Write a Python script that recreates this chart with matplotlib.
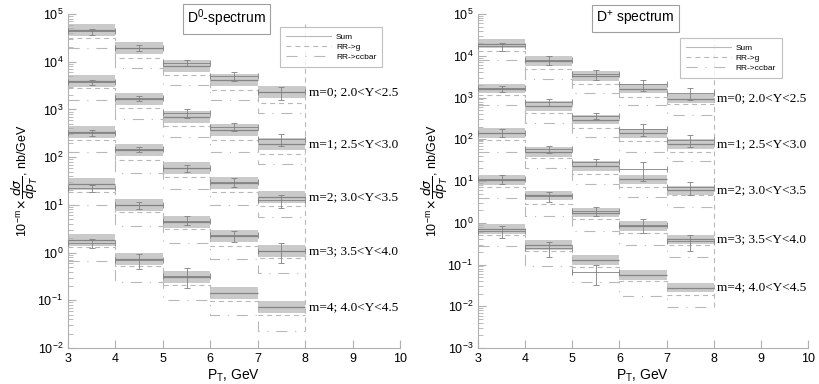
import numpy as np
import matplotlib.pyplot as plt
from matplotlib.lines import Line2D
from matplotlib.ticker import FixedLocator, FuncFormatter, NullFormatter

plt.rcParams['font.family'] = ['Liberation Sans', 'DejaVu Sans']

edges = [3, 4, 5, 6, 7, 8]
centres = [3.5, 4.5, 5.5, 6.5, 7.5]
ybins = ['2.0<Y<2.5', '2.5<Y<3.0', '3.0<Y<3.5', '3.5<Y<4.0', '4.0<Y<4.5']

# D0: rows are m = 0..4 (already multiplied by 10^-m), columns are pT bins
d0_sum = [[46000, 19000, 8200, 4200, 2300],
          [3900, 1660, 700, 370, 188],
          [340, 142, 58, 29, 14.5],
          [27, 10, 4.4, 2.2, 1.07],
          [1.83, 0.72, 0.31, 0.145, 0.072]]
d0_g = [[31000, 11800, 5300, 2600, 1350],
        [2850, 1050, 450, 230, 116],
        [230, 89, 38, 19, 9.5],
        [19, 7.2, 3.1, 1.35, 0.76],
        [1.3, 0.52, 0.21, 0.095, 0.049]]
d0_cc = [[19000, 7300, 3200, 1600, 850],
         [1600, 620, 270, 130, 72],
         [130, 47, 21, 10, 5.5],
         [10, 3.6, 1.55, 0.72, 0.38],
         [0.68, 0.245, 0.10, 0.049, 0.023]]
d0_data = [[43000, 19500, 9500, 5000, 2300],
           [3700, 1700, 850, 430, 235],
           [320, 145, 59, 30, 12.5],
           [22.5, 9.8, 4.7, 2.3, 1.1],
           [1.6, 0.7, 0.33, np.nan, np.nan]]
d0_err = [[0.144, 0.158, 0.158, 0.204, 0.312],
          [0.134, 0.120, 0.223, 0.182, 0.273],
          [0.144, 0.134, 0.177, 0.214, 0.312],
          [0.158, 0.182, 0.214, 0.260, 0.448],
          [0.214, 0.347, 0.448, np.nan, np.nan]]
d0_band = 1.34

# D+
dp_sum = [[19600, 7500, 3250, 1640, 945],
          [1640, 620, 295, 138, 76],
          [142, 50, 23, 11, 6],
          [10.5, 4.5, 1.74, 0.83, 0.40],
          [0.71, 0.29, 0.13, 0.056, 0.028]]
dp_g = [[13000, 4900, 2160, 1020, 690],
        [1140, 430, 186, 90, 50],
        [96, 35, 15, 7.3, 4.6],
        [7, 2.8, 1.2, 0.57, 0.29],
        [0.51, 0.21, 0.085, 0.041, 0.019]]
dp_cc = [[7800, 2850, 1290, 660, 380],
         [660, 245, 115, 50, 30],
         [50, 20, 8.7, 4.2, 2.4],
         [4, 1.45, 0.63, 0.29, 0.155],
         [0.27, 0.093, 0.039, 0.018, 0.0095]]
dp_data = [[17000, 7800, 3600, 2050, 1280],
           [1660, 760, 365, 180, 95],
           [145, 58, 28, 19, 7],
           [11, 4.4, 1.9, 0.9, 0.36],
           [0.65, 0.25, 0.066, np.nan, np.nan]]
dp_err = [[0.217, 0.243, 0.284, 0.309, 0.334],
          [0.164, 0.190, 0.180, 0.319, 0.309],
          [0.201, 0.180, 0.201, 0.467, 0.353],
          [0.243, 0.269, 0.253, 0.368, 0.428],
          [0.319, 0.382, 0.513, np.nan, np.nan]]
dp_band = 1.30

band_col = '#cacaca'
sum_col = '#858585'
thin_col = '#b8b8b8'
err_col = '#808080'
dash = (0, (4.5, 3.5))
dashdot = (0, (10, 7, 1, 7))


def decade(v, pos):
    return r'$\mathregular{10^{%d}}$' % round(np.log10(v))


def draw(ax, title, s, g, cc, data, err, band, lowest, leg_box):
    for m in range(5):
        sm = np.array(s[m])
        ax.bar(centres, sm * band - sm / band, bottom=sm / band, width=1.0,
               color=band_col, lw=0, zorder=1)
        ax.hlines(sm, edges[:-1], edges[1:], color=sum_col, lw=0.9, zorder=3)
        ax.stairs(g[m], edges, baseline=None, color=thin_col, lw=0.8,
                  ls=dash, zorder=2)
        ax.stairs(cc[m], edges, baseline=None, color=thin_col, lw=0.8,
                  ls=dashdot, zorder=2)
        v = np.array(data[m])
        e = np.array(err[m]) * v
        ax.errorbar(centres, v, yerr=e, xerr=0.5, fmt='none', ecolor=err_col,
                    elinewidth=0.6, capsize=2, capthick=0.6, zorder=4)
        ax.text(8.08, sm[-1], f'm={m}; {ybins[m]}', family='Liberation Serif',
                fontsize=9.5, va='center', ha='left', zorder=5)

    # outer edge of the step histograms at the last bin
    lo = min(np.min(g), np.min(cc))
    hi = np.max(np.array(s)) * band
    ax.vlines(edges[-1], lo, hi, color=thin_col, lw=0.8, ls=dash, zorder=2)

    decades = [10.0 ** k for k in range(lowest, 6)]
    minors = [d * k for d in decades[:-1] for k in range(2, 10)]
    ax.set_yscale('log')
    ax.set_xlim(3, 10)
    ax.set_ylim(decades[0], decades[-1])
    ax.set_xticks(range(3, 11))
    ax.yaxis.set_major_locator(FixedLocator(decades))
    ax.yaxis.set_major_formatter(FuncFormatter(decade))
    ax.yaxis.set_minor_locator(FixedLocator(minors))
    ax.yaxis.set_minor_formatter(NullFormatter())
    ax.tick_params(which='both', direction='in', colors='#b0b0b0',
                   labelcolor='black', labelsize=9)
    ax.tick_params(which='major', length=6, width=0.8)
    ax.tick_params(which='minor', length=3.5, width=0.6)
    for side in ('top', 'right'):
        ax.spines[side].set_visible(False)
    for side in ('left', 'bottom'):
        ax.spines[side].set_color('#b0b0b0')
        ax.spines[side].set_linewidth(0.8)

    ax.set_xlabel(r'P$_\mathregular{T}$, GeV', fontsize=10, labelpad=2)
    ax.set_ylabel(r'$\mathregular{10^{-m}}\!\times\!\dfrac{d\sigma}{dp_T}$, nb/GeV',
                  fontsize=9)
    ax.yaxis.set_label_coords(-0.085, 0.5)

    ax.text(0.477, 0.986, title, transform=ax.transAxes, fontsize=10,
            ha='center', va='center', zorder=6,
            bbox=dict(boxstyle='square,pad=0.3', fc='white', ec='#a0a0a0', lw=0.8))

    handles = [Line2D([], [], color=thin_col, lw=0.8),
               Line2D([], [], color=thin_col, lw=0.8, ls=dash),
               Line2D([], [], color=thin_col, lw=0.8, ls=dashdot)]
    leg = ax.legend(handles, ['Sum', 'RR->g', 'RR->ccbar'], loc='upper left',
                    bbox_to_anchor=leg_box, borderaxespad=0, fontsize=6,
                    handlelength=5.4, frameon=True, fancybox=False,
                    borderpad=0.7, labelspacing=0.3, handletextpad=0.6)
    leg.get_frame().set_edgecolor('#b0b0b0')
    leg.get_frame().set_linewidth(0.8)


fig = plt.figure(figsize=(8.2, 3.84), dpi=100)
ax1 = fig.add_axes([68 / 820, 36 / 384, 332 / 820, 334 / 384])
ax2 = fig.add_axes([478 / 820, 36 / 384, 330 / 820, 334 / 384])

draw(ax1, r'D$^\mathregular{0}$-spectrum', d0_sum, d0_g, d0_cc, d0_data, d0_err,
     d0_band, -2, (0.639, 0.961))
draw(ax2, r'D$^\mathregular{+}$ spectrum', dp_sum, dp_g, dp_cc, dp_data, dp_err,
     dp_band, -3, (0.612, 0.928))

fig.savefig('out.png', dpi=100)
